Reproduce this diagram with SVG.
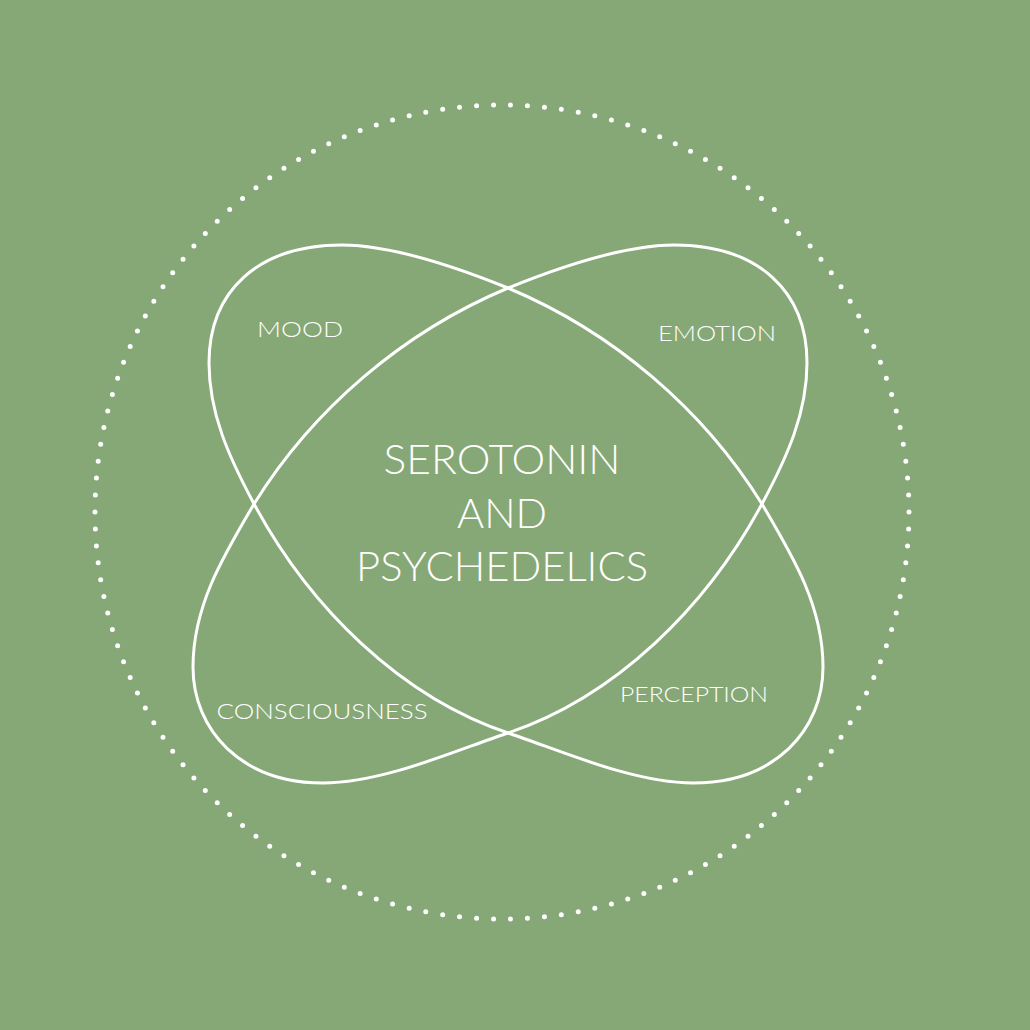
<svg xmlns="http://www.w3.org/2000/svg" xmlns:xlink="http://www.w3.org/1999/xlink" width="1030" height="1030" viewBox="0 0 1030 1030">
  <style>
    .bg { fill: #86a876; }
    .lobe { fill: none; stroke: #ffffff; stroke-width: 3; stroke-linejoin: round; }
    .ring { fill: none; stroke: #ffffff; stroke-width: 5; stroke-linecap: round; stroke-dasharray: 0 1; }
    .title { font-family: Lato, "Open Sans", "Liberation Sans", sans-serif; font-weight: 300; font-size: 42px; fill: #ffffff; text-anchor: middle; }
    .label { font-family: Lato, "Open Sans", "Liberation Sans", sans-serif; font-weight: 300; font-size: 22px; fill: #ffffff; text-anchor: middle; }
  </style>
  <defs>
    <path id="lobeShape" d="M 342,245 C 395,245 461,269 508,288 C 613,332 703,409 762,504 C 794,558 823,607 823,667 C 823,730 775,783 693,783 C 633,783 559,750 511,734 C 401,698 309,607 253,502 C 229,457 209,413 209,363 C 209,292 257,245 342,245 Z"/>
  </defs>
  <rect class="bg" x="0" y="0" width="1030" height="1030"/>
  <g id="ring">
    <circle class="ring" cx="502" cy="512" r="407" pathLength="150"/>
  </g>
  <g id="connectors">
    <use id="shape-a" xlink:href="#lobeShape" href="#lobeShape" class="lobe"/>
    <use id="shape-b" xlink:href="#lobeShape" href="#lobeShape" class="lobe" transform="matrix(-1,0,0,1,1016,0)"/>
  </g>
  <g id="center">
    <text class="title" x="502" y="474" textLength="237" lengthAdjust="spacingAndGlyphs">SEROTONIN</text>
    <text class="title" x="502" y="528" textLength="90" lengthAdjust="spacingAndGlyphs">AND</text>
    <text class="title" x="502" y="581" textLength="292" lengthAdjust="spacingAndGlyphs">PSYCHEDELICS</text>
  </g>
  <g id="mood"><text class="label" x="300" y="337" textLength="86" lengthAdjust="spacingAndGlyphs">MOOD</text></g>
  <g id="emotion"><text class="label" x="717" y="341" textLength="118" lengthAdjust="spacingAndGlyphs">EMOTION</text></g>
  <g id="consciousness"><text class="label" x="322" y="719" textLength="211" lengthAdjust="spacingAndGlyphs">CONSCIOUSNESS</text></g>
  <g id="perception"><text class="label" x="694" y="702" textLength="148" lengthAdjust="spacingAndGlyphs">PERCEPTION</text></g>
</svg>
